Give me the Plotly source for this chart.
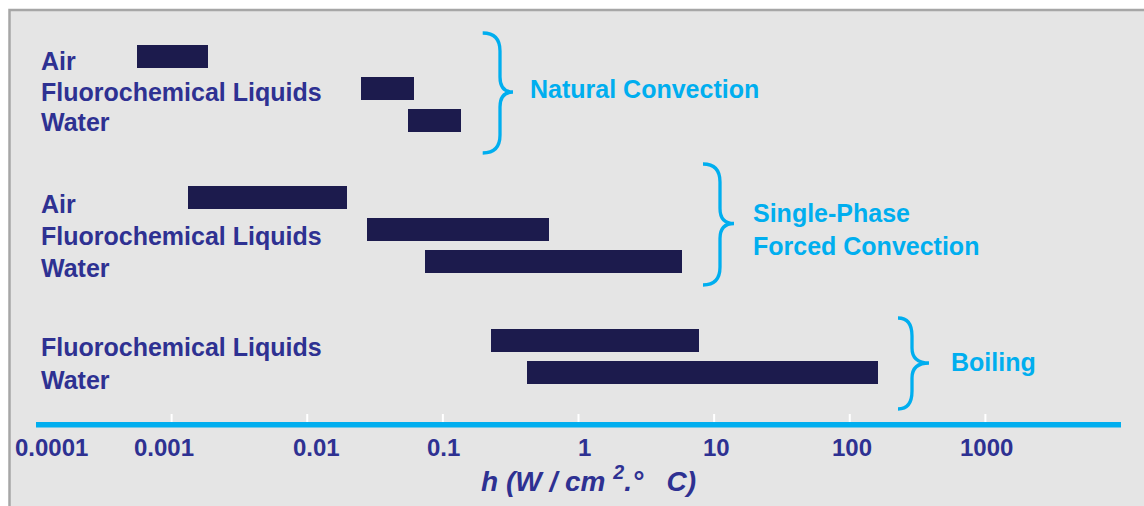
import math
import plotly.graph_objects as go

# ---------------- data ----------------
groups = ["Natural Convection", "Single-Phase<br>Forced Convection", "Boiling"]
nc_fluids = ["Air", "Fluorochemical Liquids", "Water"]
nc_low = [0.00056, 0.025, 0.0556]
nc_high = [0.00184, 0.0615, 0.1366]

fc_fluids = ["Air", "Fluorochemical Liquids", "Water"]
fc_low = [0.00133, 0.0277, 0.0742]
fc_high = [0.01975, 0.608, 5.81]

bo_fluids = ["Fluorochemical Liquids", "Water"]
bo_low = [0.2274, 0.419]
bo_high = [7.75, 161.7]

tick_values = [0.0001, 0.001, 0.01, 0.1, 1, 10, 100, 1000]
tick_labels = ["0.0001", "0.001", "0.01", "0.1", "1", "10", "100", "1000"]
axis_span = [0.0001, 10000]

# ---------------- layout constants (page px) ----------------
W, H = 1144, 506
L, R, T = 36, 23, 8
PLOT_BOTTOM = 432
PW = W - L - R
PH = PLOT_BOTTOM - T
B = H - PLOT_BOTTOM

NAVY = "#2e3192"
BAR = "#1c1b4d"
CYAN = "#00aeef"
BG = "#e5e5e5"
FONT = "Liberation Sans, Arial, sans-serif"

def px(x):
    return (x - L) / PW

def py(y):
    return 1 - (y - T) / PH

bar_pitch = 32
bar_starts = [56.5, 197.5, 340.5]
label_starts = [61.0, 203.5, 346.5]
label_pitch = [30.5, 32.0, 33.0]
bar_thick = 23
axis_y = 424.7
tick_top, tick_bot = 414, 422

fig = go.Figure()

all_groups = [(nc_fluids, nc_low, nc_high), (fc_fluids, fc_low, fc_high), (bo_fluids, bo_low, bo_high)]
annotations = []
for g, (fl, lo, hi) in enumerate(all_groups):
    ys = [bar_starts[g] + i * bar_pitch for i in range(len(fl))]
    fig.add_trace(go.Bar(
        y=ys, x=[h - l for l, h in zip(lo, hi)], base=lo, orientation="h",
        width=bar_thick, marker=dict(color=BAR, line=dict(width=0)),
        showlegend=False, hoverinfo="skip"))
    for i, name in enumerate(fl):
        annotations.append(dict(
            text="<b>%s</b>" % name, xref="paper", yref="paper",
            x=px(39), y=py(label_starts[g] + i * label_pitch[g]),
            xanchor="left", yanchor="middle", showarrow=False,
            font=dict(family=FONT, size=25, color=NAVY)))

# axis line
fig.add_trace(go.Scatter(x=axis_span, y=[axis_y, axis_y], mode="lines",
                         line=dict(color=CYAN, width=5.5),
                         showlegend=False, hoverinfo="skip"))
# white tick marks
tx, ty = [], []
for v in tick_values[1:]:
    tx += [v, v, None]
    ty += [tick_top, tick_bot, None]
fig.add_trace(go.Scatter(x=tx, y=ty, mode="lines", line=dict(color="white", width=2),
                         showlegend=False, hoverinfo="skip"))

# tick labels
label_shift = [15, -8, 9, 1, 6, 2, 2, 1]
for v, t, s in zip(tick_values, tick_labels, label_shift):
    annotations.append(dict(
        text="<b>%s</b>" % t, xref="x", yref="paper", x=math.log10(v),
        y=py(447), xshift=s, xanchor="center", yanchor="middle", showarrow=False,
        font=dict(family=FONT, size=24, color=NAVY)))

# group labels
group_pos = [(529, 89), (752, 229), (950, 362)]
for txt, (gx, gy) in zip(groups, group_pos):
    annotations.append(dict(
        text="<b>%s</b>" % txt, xref="paper", yref="paper", x=px(gx - 1), y=py(gy),
        xanchor="left", yanchor="middle", align="left", showarrow=False,
        font=dict(family=FONT, size=25, color=CYAN)))

# axis title
annotations.append(dict(
    text="<b><i>h (W / cm <sup>2</sup>.°\u00a0\u00a0\u00a0C)</i></b>",
    xref="paper", yref="paper", x=px(588), y=py(479), xanchor="center", yanchor="middle",
    showarrow=False, font=dict(family=FONT, size=28, color=NAVY)))

shapes = []
# grey panel with border (page margin area stays white)
shapes.append(dict(type="rect", xref="paper", yref="paper", layer="below",
                   x0=px(9.5), x1=px(1400), y0=py(10), y1=py(800),
                   line=dict(color="#a6a6a6", width=2.5), fillcolor=BG))

# braces
def brace(xl, xs, xp, yt, ym, yb, r=18, rm=15):
    pts = "M %f,%f Q %f,%f %f,%f L %f,%f Q %f,%f %f,%f Q %f,%f %f,%f L %f,%f Q %f,%f %f,%f" % (
        px(xl), py(yt), px(xs), py(yt), px(xs), py(yt + r),
        px(xs), py(ym - rm), px(xs), py(ym), px(xp), py(ym),
        px(xs), py(ym), px(xs), py(ym + rm),
        px(xs), py(yb - r), px(xs), py(yb), px(xl), py(yb))
    return dict(type="path", xref="paper", yref="paper", path=pts,
                line=dict(color=CYAN, width=3.3))

shapes.append(brace(482.7, 500, 513, 33, 92, 153))
shapes.append(brace(703, 720, 734, 164, 223.5, 285))
shapes.append(brace(898, 912, 929, 318, 363, 409))

fig.update_layout(
    width=W, height=H, margin=dict(l=L, r=R, t=T, b=B, pad=0),
    paper_bgcolor="white", plot_bgcolor="rgba(0,0,0,0)", bargap=0,
    xaxis=dict(type="log", range=[-4, 4], showgrid=False, zeroline=False, showline=False,
               showticklabels=False, ticks=""),
    yaxis=dict(range=[PLOT_BOTTOM, T], showgrid=False, zeroline=False, showline=False,
               showticklabels=False, ticks=""),
    annotations=annotations, shapes=shapes,
)

fig.write_html("out.html", config={"displayModeBar": False},
               post_script="document.body.style.margin='0px';document.body.style.overflow='hidden';")
